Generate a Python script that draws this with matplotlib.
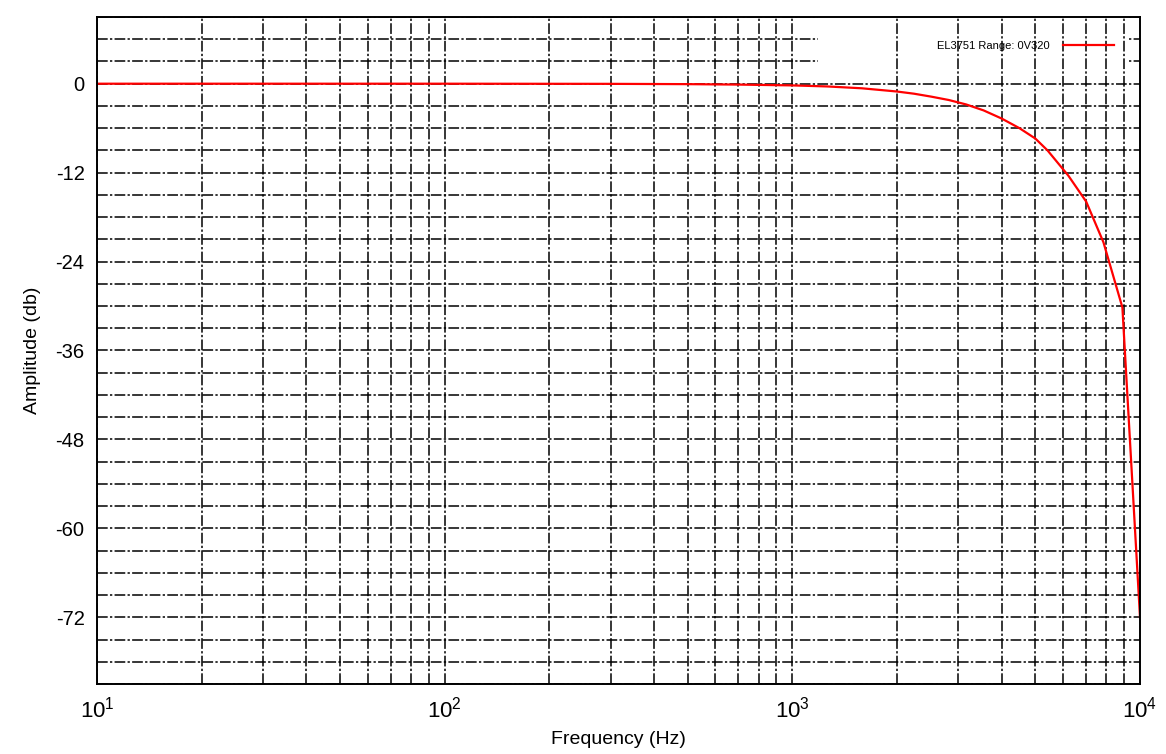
import numpy as np
import matplotlib
matplotlib.use("Agg")
import matplotlib.pyplot as plt
from matplotlib.patches import Rectangle

plt.rcParams['font.family'] = ['Liberation Sans', 'DejaVu Sans']
plt.rcParams['mathtext.fontset'] = 'custom'
plt.rcParams['mathtext.rm'] = 'Liberation Sans'
plt.rcParams['mathtext.it'] = 'Liberation Sans'

# frequency response
freq_hz = [10, 100, 300, 500, 700, 1000, 1259, 1585, 1995, 2239, 2512, 2818,
           3162, 3548, 4000, 4500, 5000, 5420, 6220, 7000, 7850, 8900, 10000]
amp_db = [0.0, 0.0, -0.02, -0.06, -0.12, -0.23, -0.37, -0.62, -1.05, -1.35,
          -1.75, -2.2, -2.8, -3.6, -4.7, -6.0, -7.4, -9.0, -12.4, -15.9,
          -21.4, -30.2, -72.0]
series_label = "EL3751 Range: 0V320"

y_ticks = [0, -12, -24, -36, -48, -60, -72]

fig = plt.figure(figsize=(11.66, 7.54), dpi=100)
ax = fig.add_axes([97/1166, 1 - 684/754, (1140 - 97)/1166, (684 - 17)/754])

ax.set_xscale('log')
ax.set_xlim(10, 10000)
ax.set_ylim(-81, 9)

dash = (7, 1.5, 1.5, 1.5)
# horizontal grid every 3 dB
for yv in np.arange(-81, 10, 3):
    ax.axhline(yv, color='black', lw=1.1, dashes=dash, zorder=1)

# legend area blanks out the horizontal lines only
ax.add_patch(Rectangle((0.691, 0.9205), 0.2975, 0.0795, transform=ax.transAxes,
                       facecolor='white', edgecolor='none', zorder=1.5))

# vertical grid at each decade step
for dec in [10, 100, 1000]:
    for k in range(1, 10):
        ax.axvline(dec * k, color='black', lw=1.1, dashes=dash, zorder=2)

ax.plot(freq_hz, amp_db, color='red', lw=1.6, label=series_label, zorder=3)

ax.set_yticks(y_ticks)
ax.set_yticklabels([str(v) for v in y_ticks])
ax.tick_params(axis='both', which='both', length=0)
ax.tick_params(axis='y', pad=9, labelsize=14.5)
ax.tick_params(axis='x', pad=9, labelsize=16)
ax.xaxis.set_minor_formatter(plt.NullFormatter())

for s in ax.spines.values():
    s.set_linewidth(1.4)
    s.set_color('black')
    s.set_zorder(5)

ax.set_xlabel("Frequency (Hz)", fontsize=14, labelpad=6)
ax.set_ylabel("Amplitude (db)", fontsize=14, labelpad=10)

leg = ax.legend(loc='center right', bbox_to_anchor=(0.975, 0.9565), frameon=False,
                markerfirst=False, fontsize=8, handlelength=4.6, handletextpad=1.2,
                borderpad=0, borderaxespad=0)
leg.set_zorder(6)

fig.savefig("out.png", dpi=100)
